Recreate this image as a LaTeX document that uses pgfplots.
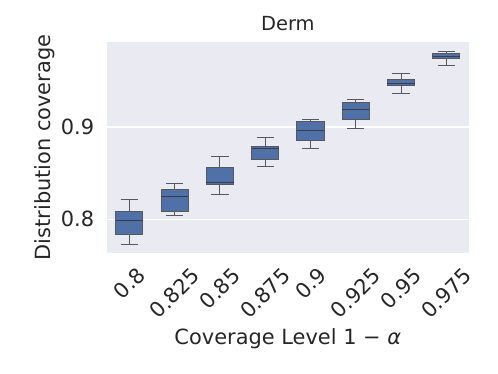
\documentclass[border=0pt]{standalone}
\usepackage{pgfplots}
\pgfplotsset{compat=1.18}
\usepgfplotslibrary{statistics}
\usepackage{fontspec}
\setmainfont{DejaVu Sans}
\definecolor{bgc}{RGB}{234,234,242}
\definecolor{boxc}{RGB}{80,113,168}
\definecolor{edgec}{RGB}{88,88,92}
\definecolor{medc}{RGB}{60,60,72}
\definecolor{txt}{RGB}{38,38,38}
\tikzset{tl/.style={anchor=center, inner sep=0pt, text=txt, font=\fontsize{21}{25}\selectfont}}
\begin{document}
\begin{tikzpicture}
\begin{axis}[
  at={(106.7bp,121bp)}, anchor=south west,
  scale only axis, width=362.3bp, height=211bp,
  xmin=0.5, xmax=8.5, ymin=0.7635, ymax=0.9921,
  axis background/.style={fill=bgc},
  axis line style={draw=none},
  major tick length=0pt,
  xtick={1,...,8}, xticklabels={},
  ytick={0.8,0.9},
  /pgf/number format/assume math mode=true,
  yticklabel style={inner sep=0pt, xshift=-12.4bp, font=\fontsize{21}{25}\selectfont, text=txt},
  ymajorgrids, grid style={white, line width=1.1bp},
  xlabel={Coverage Level 1 − {\itshape α}},
  xlabel style={at={(axis description cs:0.5,-0.436)}, anchor=base, font=\fontsize{21}{25}\selectfont, text=txt},
  ylabel={Distribution coverage},
  ylabel style={at={(axis description cs:-0.170,0.5)}, anchor=center, font=\fontsize{21}{25}\selectfont, text=txt},
  title={Derm},
  title style={at={(axis description cs:0.5,1)}, anchor=base, yshift=6bp, font=\fontsize{19.5}{23}\selectfont, text=txt},
  boxplot/draw direction=y,
  boxplot/box extend=0.6,
  boxplot/whisker extend=0.38,
  boxplot/every box/.style={fill=boxc, draw=edgec, line width=1bp},
  boxplot/every whisker/.style={draw=edgec, line width=1bp},
  boxplot/every median/.style={draw=medc, line width=1bp},
  clip=false,
]
\addplot[boxplot prepared={draw position=1, lower whisker=0.7729, lower quartile=0.7833, median=0.7989, upper quartile=0.8090, upper whisker=0.8212}, draw=edgec, fill=boxc] coordinates {};
\addplot[boxplot prepared={draw position=2, lower whisker=0.8036, lower quartile=0.8082, median=0.8249, upper quartile=0.8328, upper whisker=0.8390}, draw=edgec, fill=boxc] coordinates {};
\addplot[boxplot prepared={draw position=3, lower whisker=0.8274, lower quartile=0.8372, median=0.8401, upper quartile=0.8563, upper whisker=0.8678}, draw=edgec, fill=boxc] coordinates {};
\addplot[boxplot prepared={draw position=4, lower whisker=0.8574, lower quartile=0.8650, median=0.8769, upper quartile=0.8791, upper whisker=0.8881}, draw=edgec, fill=boxc] coordinates {};
\addplot[boxplot prepared={draw position=5, lower whisker=0.8765, lower quartile=0.8856, median=0.8967, upper quartile=0.9062, upper whisker=0.9079}, draw=edgec, fill=boxc] coordinates {};
\addplot[boxplot prepared={draw position=6, lower whisker=0.8982, lower quartile=0.9076, median=0.9195, upper quartile=0.9268, upper whisker=0.9293}, draw=edgec, fill=boxc] coordinates {};
\addplot[boxplot prepared={draw position=7, lower whisker=0.9361, lower quartile=0.9452, median=0.9473, upper quartile=0.9520, upper whisker=0.9582}, draw=edgec, fill=boxc] coordinates {};
\addplot[boxplot prepared={draw position=8, lower whisker=0.9668, lower quartile=0.9740, median=0.9769, upper quartile=0.9794, upper whisker=0.9816}, draw=edgec, fill=boxc] coordinates {};
\node[tl, yshift=-30bp, rotate=45] at (axis cs:1,0.7635) {0.8};
\node[tl, yshift=-40bp, rotate=45] at (axis cs:2,0.7635) {0.825};
\node[tl, yshift=-35.5bp, rotate=45] at (axis cs:3,0.7635) {0.85};
\node[tl, yshift=-40bp, rotate=45] at (axis cs:4,0.7635) {0.875};
\node[tl, yshift=-30bp, rotate=45] at (axis cs:5,0.7635) {0.9};
\node[tl, yshift=-40bp, rotate=45] at (axis cs:6,0.7635) {0.925};
\node[tl, yshift=-35.5bp, rotate=45] at (axis cs:7,0.7635) {0.95};
\node[tl, yshift=-40bp, rotate=45] at (axis cs:8,0.7635) {0.975};
\end{axis}
\path (0,0) rectangle (498bp,374bp);
\end{tikzpicture}
\end{document}
